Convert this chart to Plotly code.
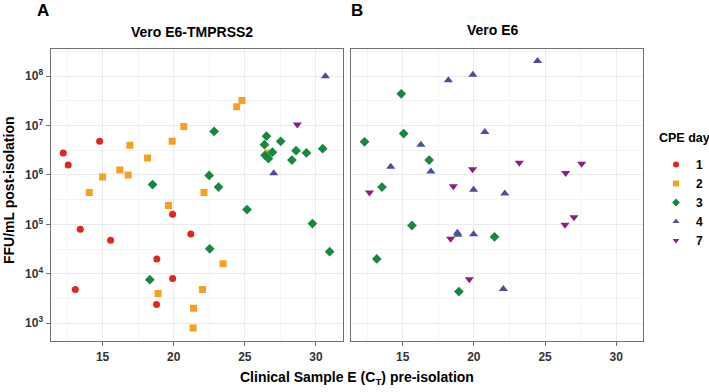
import plotly.graph_objects as go

# ---------------- data ----------------
# Panel A: Vero E6-TMPRSS2
a_day1_ct = [12.23, 12.58, 14.79, 13.43, 15.56, 19.92, 21.2, 18.81, 19.92, 13.08, 18.79]
a_day1_ffu = [2.8e6, 1.6e6, 4.8e6, 8e4, 4.8e4, 1.6e5, 6.4e4, 2e4, 8e3, 4.8e3, 2.4e3]

a_day2_ct = [14.06, 15.0, 16.21, 16.8, 16.92, 18.16, 19.89, 20.71, 24.43, 24.8, 22.13, 26.63,
             19.63, 23.47, 22.02, 18.9, 21.39, 21.36]
a_day2_ffu = [4.4e5, 9.1e5, 1.26e6, 1e6, 4e6, 2.2e6, 4.8e6, 9.6e6, 2.4e7, 3.2e7, 4.4e5, 2.8e6,
              2.4e5, 1.6e4, 4.8e3, 4e3, 2e3, 8e2]

a_day3_ct = [22.84, 18.51, 22.49, 23.15, 26.52, 26.38, 27.52, 26.94, 26.42, 26.66, 28.6, 29.33,
             30.47, 28.31, 25.15, 29.75, 30.96, 22.53, 18.32]
a_day3_ffu = [7.6e6, 6.4e5, 9.8e5, 5.7e5, 6.1e6, 4.1e6, 4.8e6, 2.9e6, 2.5e6, 2.15e6, 3.1e6, 2.8e6,
              3.4e6, 2e6, 2e5, 1.04e5, 2.8e4, 3.2e4, 7.6e3]

a_day4_ct = [30.66, 27.03]
a_day4_ffu = [1e8, 1.09e6]

a_day7_ct = [28.69]
a_day7_ffu = [1.05e7]

# Panel B: Vero E6
b_day3_ct = [14.9, 15.07, 12.32, 16.86, 13.55, 15.65, 21.45, 13.18, 18.95]
b_day3_ffu = [4.4e7, 6.9e6, 4.7e6, 2e6, 5.7e5, 9.5e4, 5.6e4, 2e4, 4.36e3]

b_day4_ct = [24.47, 19.93, 18.21, 20.77, 16.28, 14.16, 16.98, 19.98, 22.17, 18.84, 18.88, 19.98, 22.07]
b_day4_ffu = [2.04e8, 1.07e8, 8.3e7, 7.4e6, 4.1e6, 1.46e6, 1.17e6, 5e5, 4.2e5, 6.8e4, 6.2e4, 6.3e4, 4.9e3]

b_day7_ct = [12.67, 18.56, 19.91, 23.19, 26.45, 27.57, 26.4, 27.03, 18.37, 19.68]
b_day7_ffu = [4.4e5, 5.9e5, 1.31e6, 1.76e6, 1.1e6, 1.68e6, 9.8e4, 1.4e5, 5.1e4, 7.8e3]

days = ["1", "2", "3", "4", "7"]
x_tickvals = [15, 20, 25, 30]
y_tickvals = [1e3, 1e4, 1e5, 1e6, 1e7, 1e8]
y_ticktext = ["<b>10<sup>%d</sup></b>" % e for e in range(3, 9)]

# ---------------- styles ----------------
colors = {"1": "#E3261D", "2": "#F5A01E", "3": "#17893F", "4": "#4B4E9E", "7": "#8C1D84"}
symbols = {"1": "circle", "2": "square", "3": "diamond", "4": "triangle-up", "7": "triangle-down"}
msize = {"1": 7, "2": 7, "3": 7.5, "4": 8, "7": 8}

W, H = 709, 392
FONT = "Liberation Sans, Arial, sans-serif"

fig = go.Figure()

def add(ct, ffu, day, xa, ya):
    fig.add_trace(go.Scatter(
        x=ct, y=ffu, mode="markers", xaxis=xa, yaxis=ya,
        name=day, legendgroup=day, showlegend=False,
        marker=dict(color=colors[day], symbol=symbols[day], size=msize[day], line=dict(width=0)),
    ))

add(a_day1_ct, a_day1_ffu, "1", "x", "y")
add(a_day2_ct, a_day2_ffu, "2", "x", "y")
add(a_day3_ct, a_day3_ffu, "3", "x", "y")
add(a_day4_ct, a_day4_ffu, "4", "x", "y")
add(a_day7_ct, a_day7_ffu, "7", "x", "y")
add(b_day3_ct, b_day3_ffu, "3", "x2", "y2")
add(b_day4_ct, b_day4_ffu, "4", "x2", "y2")
add(b_day7_ct, b_day7_ffu, "7", "x2", "y2")

# legend entries
for d in days:
    fig.add_trace(go.Scatter(
        x=[None], y=[None], mode="markers", name="<b>%s</b>" % d, legendgroup=d, showlegend=True,
        marker=dict(color=colors[d], symbol=symbols[d], size=6, line=dict(width=0)),
    ))

def px_x(p):
    return p / W

def px_y(p):
    return 1 - p / H

plot_top, plot_bot = 49, 341
yd = [px_y(plot_bot), px_y(plot_top)]

grid = "#EBEBEB"
frame = "#707070"

xaxis_common = dict(
    range=[11.35, 31.9], tickvals=x_tickvals,
    ticktext=["<b>%d</b>" % v for v in x_tickvals],
    showgrid=True, gridcolor=grid, gridwidth=1,
    minor=dict(tickvals=[12.5, 17.5, 22.5, 27.5], showgrid=True, gridcolor="#F4F4F4", gridwidth=0.8, ticks=""),
    showline=True, mirror=True, linecolor=frame, linewidth=1.3,
    ticks="outside", ticklen=4, tickcolor=frame, tickwidth=1,
    tickfont=dict(family=FONT, size=12, color="#333333"),
    zeroline=False,
)
yaxis_common = dict(
    type="log", range=[2.64, 8.55], tickvals=y_tickvals,
    showgrid=True, gridcolor=grid, gridwidth=1,
    minor=dict(tickvals=[10 ** (e + 0.5) for e in range(2, 9)], showgrid=True, gridcolor="#F4F4F4", gridwidth=0.8, ticks=""),
    showline=True, mirror=True, linecolor=frame, linewidth=1.3,
    ticks="outside", ticklen=4, tickcolor=frame, tickwidth=1,
    tickfont=dict(family=FONT, size=12, color="#333333"),
    zeroline=False,
)

fig.update_layout(
    width=W, height=H,
    margin=dict(l=0, r=0, t=0, b=0),
    paper_bgcolor="white", plot_bgcolor="white",
    font=dict(family=FONT, color="black"),
    xaxis=dict(xaxis_common, domain=[px_x(50.7), px_x(343)], anchor="y"),
    yaxis=dict(yaxis_common, domain=yd, anchor="x", ticktext=y_ticktext),
    xaxis2=dict(xaxis_common, domain=[px_x(350.7), px_x(643.3)], anchor="y2"),
    yaxis2=dict(yaxis_common, domain=yd, anchor="x2", showticklabels=False, ticks=""),
    legend=dict(
        x=px_x(656), y=px_y(150), xanchor="left", yanchor="top",
        font=dict(family=FONT, size=12), bgcolor="rgba(0,0,0,0)",
        itemwidth=30, tracegroupgap=0,
    ),
    showlegend=True,
)

ann = [
    dict(text="<b>A</b>", x=px_x(42.7), y=px_y(11), size=17, xa="center"),
    dict(text="<b>B</b>", x=px_x(356.7), y=px_y(11), size=17, xa="center"),
    dict(text="<b>Vero E6-TMPRSS2</b>", x=px_x(192), y=px_y(32), size=14, xa="center"),
    dict(text="<b>Vero E6</b>", x=px_x(493), y=px_y(30), size=14, xa="center"),
    dict(text="<b>Clinical Sample E (C<sub>T</sub>) pre-isolation</b>", x=px_x(357), y=px_y(378), size=14, xa="center"),
    dict(text="<b>CPE day</b>", x=px_x(657), y=px_y(138), size=12.5, xa="left"),
]
for a in ann:
    fig.add_annotation(text=a["text"], x=a["x"], y=a["y"], xref="paper", yref="paper",
                       xanchor=a["xa"], yanchor="middle", showarrow=False,
                       font=dict(family=FONT, size=a["size"], color="black"))
fig.add_annotation(text="<b>FFU/mL post-isolation</b>", x=px_x(9), y=px_y(190), xref="paper", yref="paper",
                   xanchor="center", yanchor="middle", showarrow=False, textangle=-90,
                   font=dict(family=FONT, size=14, color="black"))

# remove the browser's default 8px body margin so the figure sits at the page origin
fig.write_html("out.html", config={"displayModeBar": False},
               post_script="document.body.style.margin='0px';")
